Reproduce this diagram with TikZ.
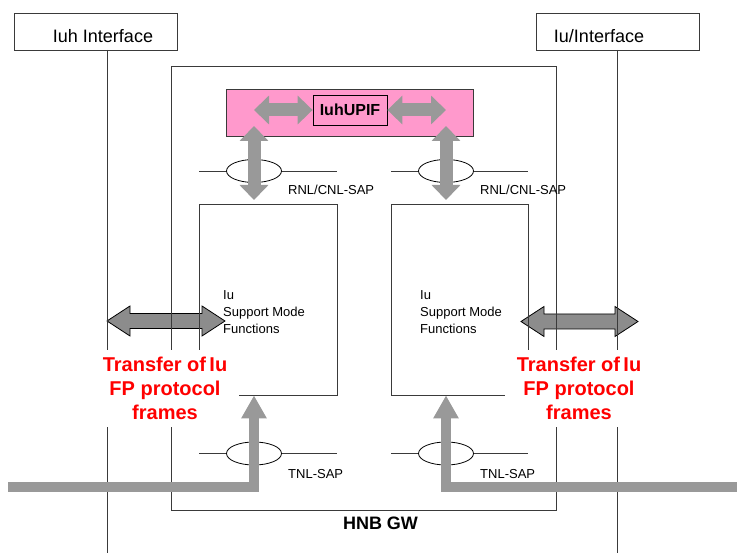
\documentclass[tikz,border=0pt]{standalone}
\usepackage{fontspec}
\setmainfont{Liberation Sans}
\usetikzlibrary{arrows.meta,shapes.geometric,calc}
\definecolor{linegray}{HTML}{3A3A3A}
\definecolor{arrowgray}{HTML}{999999}
\definecolor{darkarrow}{HTML}{8C8C8C}
\definecolor{pinkfill}{HTML}{FF99CC}
\definecolor{redtext}{HTML}{FF0000}
\tikzset{
  thin line/.style={draw=linegray,line width=0.8pt},
  ifbox/.style={thin line,rectangle,minimum width=163pt,minimum height=37pt,inner sep=0pt},
  iftext/.style={font=\fontsize{18}{20}\selectfont,inner sep=0pt},
  sapell/.style={ellipse,draw=black,line width=0.8pt,fill=white,minimum width=55pt,minimum height=23pt,inner sep=0pt},
  saplabel/.style={font=\fontsize{13}{15}\selectfont,inner sep=0pt,anchor=west},
  smf/.style={font=\fontsize{13}{17}\selectfont,align=left,inner sep=0pt,anchor=north west},
  redlabel/.style={font=\fontsize{20}{24}\selectfont\bfseries,text=redtext,align=center,fill=white,minimum width=148pt,minimum height=77pt,inner sep=0pt},
  fatarrow/.style={draw=arrowgray,line width=13pt,{Triangle[width=28pt,length=15pt]}-{Triangle[width=28pt,length=15pt]}},
  bottomarrow/.style={draw=arrowgray,line width=10pt,line join=miter,-{Triangle[width=24pt,length=23pt]}},
}
\newcommand{\outlinedarrow}[2]{%
  \path let \p1=(#1), \p2=(#2) in
    [draw=black,line width=0.8pt,fill=darkarrow]
    (\x1,\y1) -- (\x1+23pt,\y1+15pt) -- (\x1+23pt,\y1+7.5pt) -- (\x2-23pt,\y1+7.5pt)
    -- (\x2-23pt,\y1+15pt) -- (\x2,\y1) -- (\x2-23pt,\y1-15pt) -- (\x2-23pt,\y1-7.5pt)
    -- (\x1+23pt,\y1-7.5pt) -- (\x1+23pt,\y1-15pt) -- cycle;}
\begin{document}
\begin{tikzpicture}[x=1pt,y=-1pt]
\useasboundingbox[fill=white] (0,0) rectangle (737,553);

% named coordinates
\coordinate (la1) at (107,321);
\coordinate (la2) at (225,321);
\coordinate (ra1) at (521,321.5);
\coordinate (ra2) at (638,321.5);

% outlined double arrows (underneath the lines)
\outlinedarrow{la1}{la2}
\outlinedarrow{ra1}{ra2}

% interface boxes and lines
\node[ifbox] (iuhbox) at (95.5,31.5) {};
\node[iftext] (iuhtxt) at (103,36) {Iuh Interface};
\node[ifbox] (iubox) at (617.5,31.5) {};
\node[iftext] (iutxt) at (599,36) {Iu/Interface};
\coordinate (iuhtop) at (107,50);
\coordinate (iuhbot) at (107,553);
\coordinate (iutop) at (617,50);
\coordinate (iubot) at (617,553);
\draw[thin line] (iuhtop) -- (iuhbot);
\draw[thin line] (iutop) -- (iubot);

% HNB GW box
\node[thin line,rectangle,minimum width=384.5pt,minimum height=444pt,inner sep=0pt] (hnb) at (363.75,288) {};
\node[font=\fontsize{18}{20}\selectfont\bfseries,inner sep=0pt] (hnbtxt) at (380.5,523.5) {HNB GW};

% inner boxes
\node[thin line,rectangle,minimum width=138pt,minimum height=191pt,inner sep=0pt] (lbox) at (268,299.5) {};
\node[thin line,rectangle,minimum width=137pt,minimum height=191pt,inner sep=0pt] (rbox) at (459.5,299.5) {};
\node[smf] (ltxt) at (223,290) {Iu\\Support Mode\\Functions};
\node[smf] (rtxt) at (420,290) {Iu\\Support Mode\\Functions};

% pink box
\node[draw=linegray,line width=0.8pt,fill=pinkfill,minimum width=247pt,minimum height=47pt,inner sep=0pt] (pink) at (349.5,112.5) {};
\node[draw=black,line width=0.8pt,minimum width=74pt,minimum height=30pt,inner sep=0pt,font=\fontsize{16}{18}\selectfont\bfseries] (upif) at (350,110) {IuhUPIF};

% SAP lines and ellipses
\coordinate (sl1a) at (199,171); \coordinate (sl1b) at (337,171);
\coordinate (sr1a) at (391,171); \coordinate (sr1b) at (528,171);
\coordinate (sl2a) at (199,453); \coordinate (sl2b) at (337,453);
\coordinate (sr2a) at (391,453); \coordinate (sr2b) at (528,453);
\draw[thin line] (sl1a) -- (sl1b);
\draw[thin line] (sr1a) -- (sr1b);
\draw[thin line] (sl2a) -- (sl2b);
\draw[thin line] (sr2a) -- (sr2b);
\node[sapell] (lsap1) at (254,171) {};
\node[sapell] (rsap1) at (446,171) {};
\node[sapell] (lsap2) at (254,453.5) {};
\node[sapell] (rsap2) at (446,453.5) {};
\node[saplabel] (lrnl) at (288,190) {RNL/CNL-SAP};
\node[saplabel] (rrnl) at (480,190) {RNL/CNL-SAP};
\node[saplabel] (ltnl) at (288,474) {TNL-SAP};
\node[saplabel] (rtnl) at (480,474) {TNL-SAP};

% gray fat arrows
\coordinate (ph1) at (254,110);
\coordinate (ph2) at (446,110);
\draw[fatarrow] (upif.west) -- (ph1);
\draw[fatarrow] (upif.east) -- (ph2);
\coordinate (lv1) at (254,126);
\coordinate (lv2) at (254,200);
\coordinate (rv1) at (446,126);
\coordinate (rv2) at (446,200);
\draw[fatarrow] (lv1) -- (lv2);
\draw[fatarrow] (rv1) -- (rv2);

% bottom transport lines
\coordinate (lb0) at (8,487);
\coordinate (rb0) at (737,487);
\draw[bottomarrow] (lb0) -| (lbox.south -| 254,0);
\draw[bottomarrow] (rb0) -| (rbox.south -| 446,0);

% red labels
\node[redlabel] (lred) at (165,388.5) {Transfer of\,Iu\\FP protocol\\frames};
\node[redlabel] (rred) at (579,388.5) {Transfer of\,Iu\\FP protocol\\frames};
\end{tikzpicture}
\end{document}
